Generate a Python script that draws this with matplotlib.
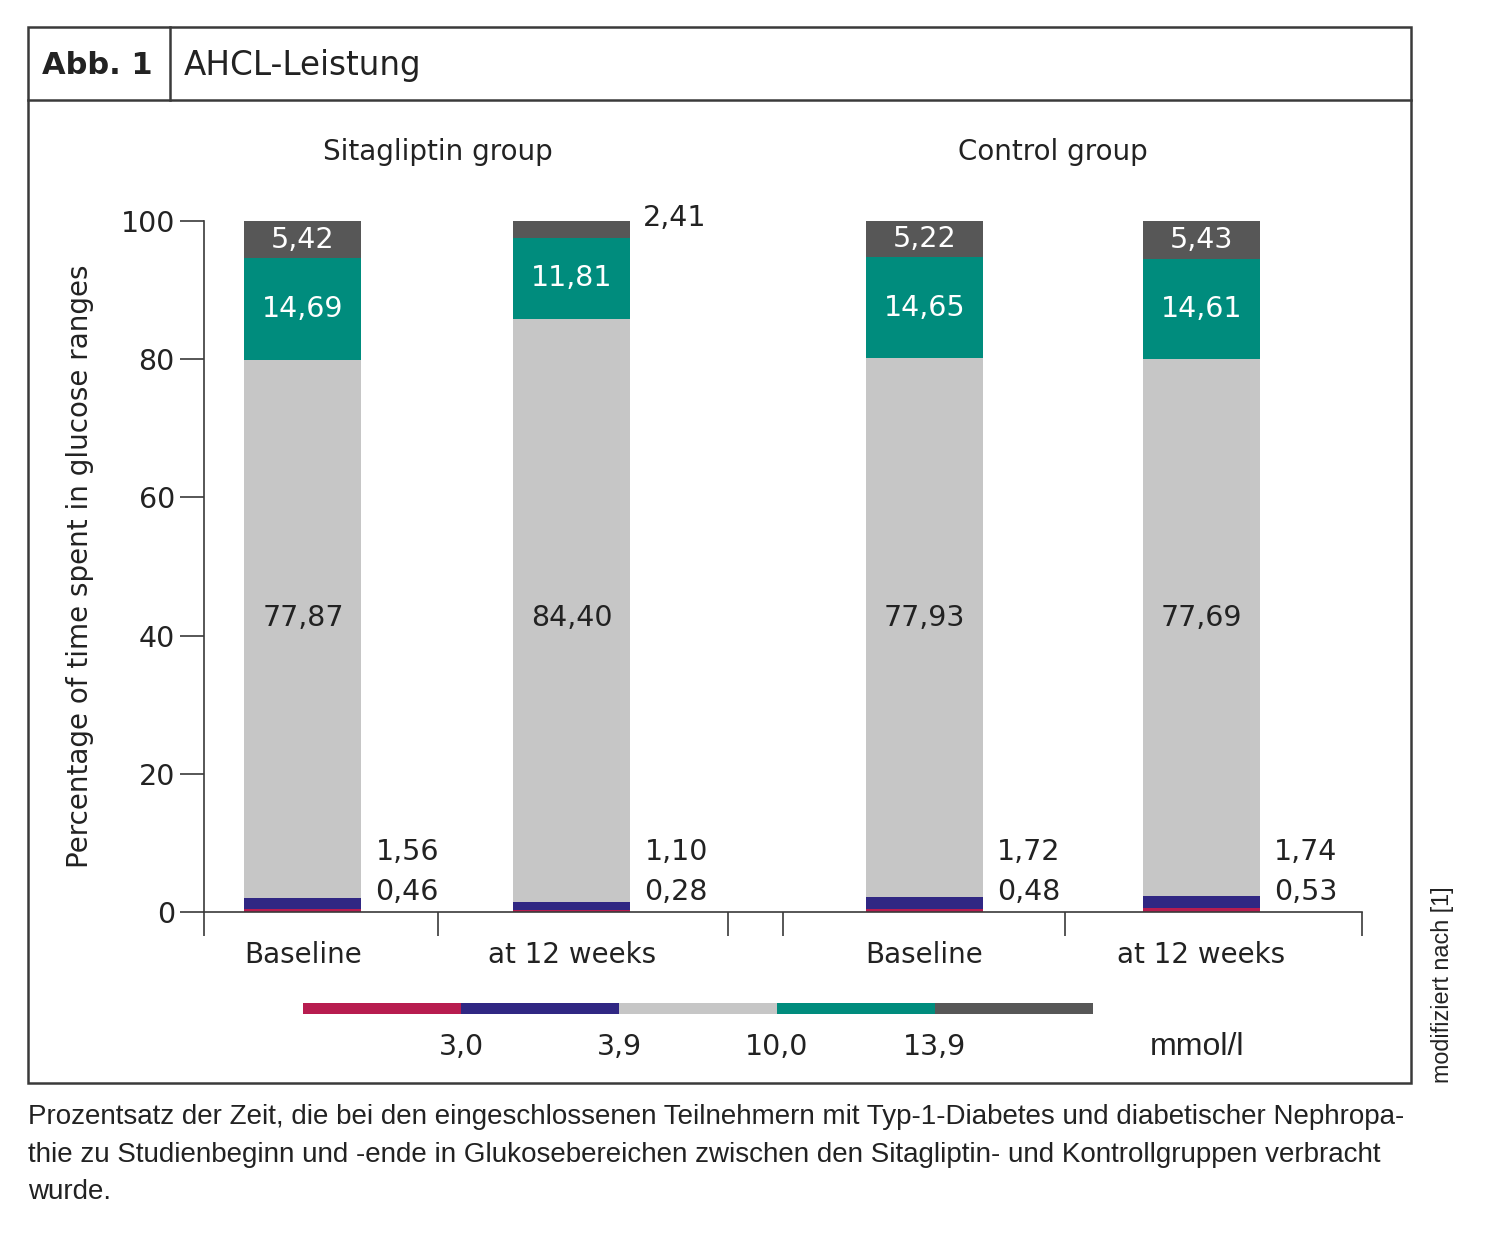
import matplotlib.pyplot as plt
from matplotlib.patches import Rectangle
from matplotlib.lines import Line2D
import numpy as np

# data: share of time (%) per glucose range, from lowest to highest range
categories = ["Baseline", "at 12 weeks", "Baseline", "at 12 weeks"]
groups = ["Sitagliptin group", "Control group"]
below_30 = [0.46, 0.28, 0.48, 0.53]
range_30_39 = [1.56, 1.10, 1.72, 1.74]
range_39_100 = [77.87, 84.40, 77.93, 77.69]
range_100_139 = [14.69, 11.81, 14.65, 14.61]
above_139 = [5.42, 2.41, 5.22, 5.43]
thresholds = ["3,0", "3,9", "10,0", "13,9"]

colors = ["#B71C4F", "#302783", "#C6C6C6", "#008C7D", "#575757"]
text_colors = [None, None, "#222222", "white", "white"]
ink = "#222222"
frame = "#3a3a3a"

W, H = 1485, 1259
fig = plt.figure(figsize=(W / 100, H / 100), dpi=100)
plt.rcParams["font.family"] = "DejaVu Sans"


def fx(px):
    return px / W


def fy(py):
    return 1 - py / H


# outer frame and header
fig.patches.append(Rectangle((fx(28), fy(1083)), fx(1411) - fx(28), fy(27) - fy(1083),
                             transform=fig.transFigure, fill=False, lw=1.8, ec=frame))
fig.lines.append(Line2D([fx(28), fx(1411)], [fy(100), fy(100)], transform=fig.transFigure, lw=1.8, color=frame))
fig.lines.append(Line2D([fx(170), fx(170)], [fy(27), fy(100)], transform=fig.transFigure, lw=1.8, color=frame))
fig.text(fx(42), fy(65), "Abb. 1", fontsize=22, fontweight="bold", va="center", color=ink)
fig.text(fx(184), fy(65), "AHCL-Leistung", fontsize=23.5, va="center", color=ink)

# main axes
ax = fig.add_axes([fx(204), fy(912), fx(1362) - fx(204), fy(221) - fy(912)])
pos = np.array([0.0, 1.0, 2.31, 3.34])
width = 0.435
ax.set_xlim(-0.368, 3.937)
ax.set_ylim(0, 100)

series = [below_30, range_30_39, range_39_100, range_100_139, above_139]
bottom = np.zeros(len(categories))
for k, vals in enumerate(series):
    vals = np.array(vals)
    ax.bar(pos, vals, width, bottom=bottom, color=colors[k], lw=0, zorder=2)
    for i, v in enumerate(vals):
        lab = f"{v:.2f}".replace(".", ",")
        if k == 0:
            ax.text(pos[i] + width / 2 + 0.052, 2.9, lab, fontsize=20.5, ha="left", va="center", color=ink)
        elif k == 1:
            ax.text(pos[i] + width / 2 + 0.052, 8.7, lab, fontsize=20.5, ha="left", va="center", color=ink)
        elif k == 2:
            ax.text(pos[i], 42.6, lab, fontsize=20.5, ha="center", va="center", color=ink, zorder=3)
        elif v < 3:
            ax.text(pos[i] + width / 2 + 0.045, 100.4, lab, fontsize=20.5, ha="left", va="center",
                    color=ink, clip_on=False)
        else:
            ax.text(pos[i], bottom[i] + v / 2, lab, fontsize=20.5, ha="center", va="center",
                    color=text_colors[k], zorder=3)
    bottom += vals

title_x = [pos[0:2].mean(), pos[2:4].mean() - 0.037]
for g, name in enumerate(groups):
    ax.text(title_x[g], 110.0, name, fontsize=20, ha="center", va="center",
            color=ink, clip_on=False)

for s in ["top", "right"]:
    ax.spines[s].set_visible(False)
for s in ["left", "bottom"]:
    ax.spines[s].set_color(frame)
    ax.spines[s].set_linewidth(1.2)

ax.set_yticks(range(0, 101, 20))
ax.tick_params(axis="y", length=17, width=1.2, color=frame, labelsize=20.5, labelcolor=ink, pad=4)
ax.set_xticks(pos)
ax.set_xticklabels(categories)
ax.tick_params(axis="x", which="major", length=0, labelsize=20, labelcolor=ink, pad=21)
ax.set_xticks([-0.368, 0.502, 1.580, 1.784, 2.833, 3.937], minor=True)
ax.tick_params(axis="x", which="minor", length=17, width=1.2, color=frame)

fig.text(fx(80), fy(566), "Percentage of time spent in glucose ranges", rotation=90,
         fontsize=20, ha="center", va="center", color=ink)

# colour key
lx = fig.add_axes([fx(303), fy(1014), fx(1093) - fx(303), fy(1003) - fy(1014)])
lx.barh(0, [1] * 5, left=range(5), height=1, color=colors, lw=0)
lx.set_xlim(0, 5)
lx.set_ylim(-0.5, 0.5)
lx.axis("off")
for j, t in enumerate(thresholds):
    lx.text(j + 1, -3.5, t, fontsize=20.5, ha="center", va="center", color=ink)
lx.text(5.66, -3.5, "mmol/l", fontsize=23, ha="center", va="center", color=ink,
        family="Liberation Sans")

fig.text(fx(1443), fy(1083), "modifiziert nach [1]", rotation=90, fontsize=16.8, ha="center",
         va="bottom", color=ink, family="Liberation Sans")

caption = [
    "Prozentsatz der Zeit, die bei den eingeschlossenen Teilnehmern mit Typ-1-Diabetes und diabetischer Nephropa-",
    "thie zu Studienbeginn und -ende in Glukosebereichen zwischen den Sitagliptin- und Kontrollgruppen verbracht",
    "wurde.",
]
for n, line in enumerate(caption):
    fig.text(fx(28), fy(1117 + 37.5 * n), line, fontsize=20, va="center", color=ink,
             family="Liberation Sans")

fig.savefig("out.png", dpi=100)
